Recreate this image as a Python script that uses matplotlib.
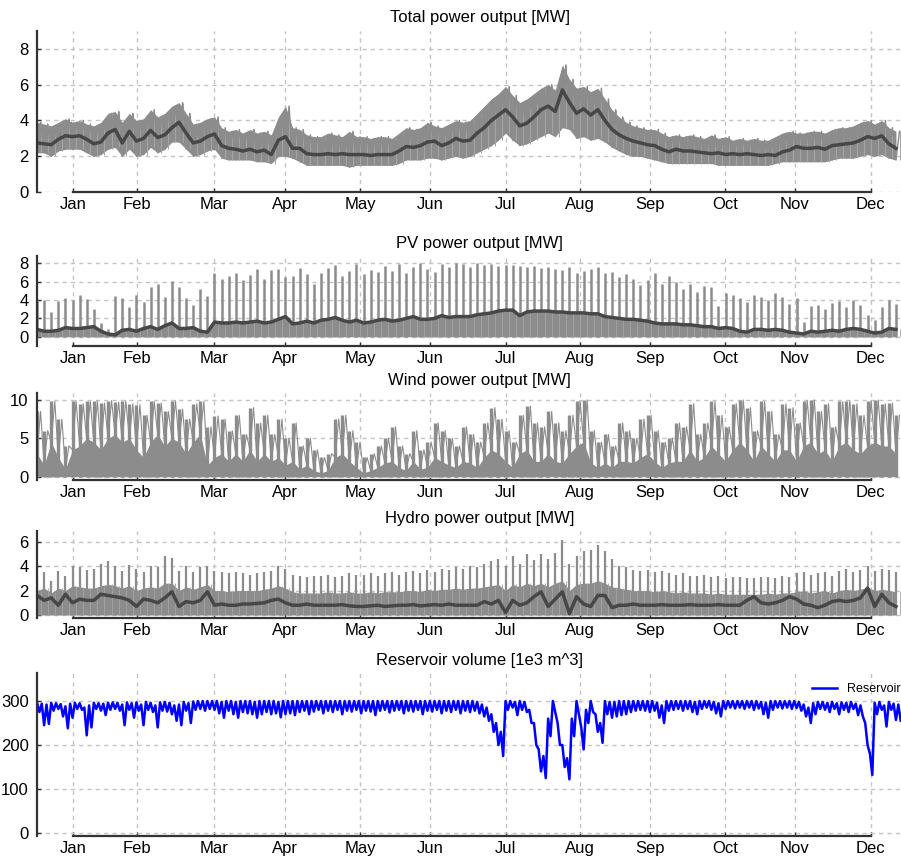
import numpy as np
import matplotlib
matplotlib.use("Agg")
import matplotlib.pyplot as plt

plt.rcParams['font.family'] = ['Liberation Sans', 'DejaVu Sans']

# month label positions along the day axis
months = ["Jan", "Feb", "Mar", "Apr", "May", "Jun", "Jul", "Aug", "Sep", "Oct", "Nov", "Dec"]
month_pos = [15.4, 42.1, 74.9, 104.8, 136.5, 166.1, 198.1, 229.4, 258.9, 290.7, 320.3, 352.3]

# power series sampled every 3 days (day 0 ... 363)
days3 = list(range(0, 364, 3))

total_mean = [2.75, 2.7, 2.65, 2.95, 3.15, 3.1, 3.15, 2.95, 2.7, 2.8,
              3.3, 3.5, 2.75, 3.4, 2.85, 3.0, 3.45, 3.05, 3.2, 3.6,
              3.9, 3.3, 2.75, 2.85, 3.1, 3.25, 2.6, 2.45, 2.4, 2.3,
              2.4, 2.25, 2.35, 2.1, 2.9, 3.1, 2.45, 2.45, 2.15, 2.1,
              2.1, 2.15, 2.1, 2.15, 2.1, 2.1, 2.1, 2.05, 2.1, 2.1,
              2.1, 2.3, 2.55, 2.5, 2.6, 2.8, 2.85, 2.6, 2.75, 3.0,
              2.85, 2.9, 3.3, 3.6, 4.0, 4.3, 4.6, 4.2, 3.7, 3.85,
              4.2, 4.6, 4.8, 4.5, 5.7, 5.0, 4.4, 4.65, 4.3, 4.6,
              4.0, 3.5, 3.2, 3.0, 2.85, 2.75, 2.65, 2.6, 2.4, 2.25,
              2.4, 2.3, 2.3, 2.25, 2.2, 2.15, 2.2, 2.1, 2.15, 2.1,
              2.15, 2.1, 2.05, 2.1, 2.05, 2.25, 2.35, 2.55, 2.45, 2.45,
              2.5, 2.4, 2.6, 2.65, 2.7, 2.75, 2.9, 3.1, 3.0, 3.15,
              2.7, 2.45]
total_hi = [3.9, 3.8, 3.7, 3.9, 4.1, 3.9, 4.0, 3.8, 3.7, 3.9,
            4.4, 4.5, 3.9, 4.4, 4.0, 4.1, 4.6, 4.2, 4.4, 4.8,
            5.0, 4.4, 3.8, 3.9, 4.1, 4.2, 3.6, 3.4, 3.5, 3.3,
            3.5, 3.3, 3.4, 3.2, 4.2, 4.8, 3.6, 3.5, 3.2, 3.1,
            3.1, 3.3, 3.2, 3.1, 3.4, 3.1, 3.1, 3.0, 3.1, 3.1,
            3.0, 3.3, 3.6, 3.5, 3.6, 3.9, 3.7, 3.6, 3.8, 4.0,
            3.9, 4.0, 4.4, 4.8, 5.2, 5.5, 5.9, 5.4, 5.0, 5.2,
            5.5, 5.8, 6.0, 5.7, 7.1, 6.3, 5.8, 5.9, 5.6, 5.8,
            5.2, 4.6, 4.2, 3.9, 3.7, 3.6, 3.5, 3.5, 3.3, 3.1,
            3.2, 3.1, 3.2, 3.1, 3.0, 3.2, 3.0, 3.1, 2.9, 3.0,
            2.9, 3.0, 2.9, 2.9, 3.1, 3.3, 3.4, 3.3, 3.3, 3.4,
            3.4, 3.3, 3.5, 3.6, 3.6, 3.7, 3.9, 4.0, 3.8, 4.0,
            3.6, 3.4]
total_lo = [2.2, 2.2, 2.0, 2.3, 2.4, 2.4, 2.4, 2.2, 2.0, 2.1,
            2.4, 2.5, 2.0, 2.4, 2.0, 2.1, 2.5, 2.2, 2.4, 2.8,
            2.8, 2.4, 2.0, 2.1, 2.3, 2.4, 1.9, 1.8, 1.8, 1.8,
            1.8, 1.7, 1.7, 1.6, 2.0, 2.0, 1.9, 1.7, 1.5, 1.5,
            1.5, 1.5, 1.5, 1.5, 1.4, 1.5, 1.5, 1.5, 1.5, 1.5,
            1.5, 1.6, 1.8, 1.8, 1.8, 1.9, 1.9, 1.8, 1.9, 2.0,
            1.9, 2.0, 2.2, 2.4, 2.6, 2.9, 3.3, 2.9, 2.6, 2.7,
            2.9, 3.1, 3.3, 3.1, 3.6, 3.5, 3.0, 3.1, 2.9, 3.0,
            2.8, 2.5, 2.3, 2.1, 2.0, 2.0, 1.9, 1.8, 1.7, 1.6,
            1.6, 1.6, 1.6, 1.6, 1.6, 1.6, 1.5, 1.5, 1.5, 1.5,
            1.5, 1.5, 1.5, 1.5, 1.6, 1.7, 1.7, 1.7, 1.7, 1.7,
            1.7, 1.7, 1.8, 1.9, 1.9, 1.9, 2.0, 2.1, 2.0, 2.1,
            1.9, 1.8]

pv_mean = [0.8, 0.6, 0.6, 0.7, 1.0, 0.9, 0.9, 1.0, 1.1, 0.6,
           0.3, 0.2, 0.7, 0.8, 0.6, 0.9, 1.1, 0.8, 1.2, 1.5,
           0.9, 0.9, 1.0, 0.6, 0.5, 1.6, 1.5, 1.5, 1.6, 1.5,
           1.6, 1.7, 1.5, 1.6, 1.9, 2.2, 1.4, 1.5, 1.7, 1.5,
           1.8, 1.9, 2.1, 1.8, 1.6, 1.8, 1.5, 1.6, 1.8, 1.9,
           1.7, 1.8, 2.0, 2.2, 1.9, 1.9, 2.0, 2.3, 2.1, 2.2,
           2.2, 2.2, 2.4, 2.5, 2.6, 2.8, 2.9, 2.9, 2.3, 2.7,
           2.8, 2.8, 2.8, 2.7, 2.7, 2.6, 2.6, 2.6, 2.5, 2.5,
           2.2, 2.1, 2.0, 1.9, 1.9, 1.8, 1.7, 1.5, 1.4, 1.4,
           1.4, 1.3, 1.3, 1.2, 1.1, 1.1, 0.9, 1.0, 0.9, 0.6,
           0.5, 0.8, 0.8, 0.7, 0.8, 0.7, 0.5, 0.4, 0.3, 0.6,
           0.5, 0.6, 0.7, 0.6, 0.8, 0.9, 0.8, 0.6, 0.4, 0.5,
           0.9, 0.8]
pv_hi = [4.1, 4.0, 2.7, 3.9, 4.2, 4.0, 4.5, 4.1, 3.0, 1.5,
         0.8, 4.4, 4.2, 3.2, 4.5, 3.8, 5.4, 5.8, 4.3, 6.1,
         5.4, 4.2, 3.5, 5.2, 4.4, 7.0, 6.3, 6.6, 7.0, 6.2,
         6.7, 7.4, 6.3, 7.3, 7.4, 6.5, 6.6, 7.5, 6.8, 5.8,
         6.9, 7.5, 7.8, 6.6, 7.2, 7.9, 6.8, 7.3, 7.1, 7.7,
         7.2, 7.9, 6.9, 7.6, 8.0, 7.4, 7.1, 7.9, 7.6, 8.0,
         7.9, 7.6, 8.0, 7.8, 7.9, 7.7, 7.8, 7.8, 7.7, 7.6,
         7.7, 7.5, 7.6, 7.4, 7.3, 7.6, 7.0, 7.2, 7.4, 7.6,
         6.9, 7.1, 6.5, 6.8, 6.3, 5.6, 6.2, 7.0, 5.8, 6.6,
         6.0, 5.2, 5.8, 4.9, 5.5, 5.4, 3.4, 4.8, 4.5, 4.2,
         3.8, 4.6, 4.3, 4.0, 4.8, 4.3, 3.6, 4.2, 1.6, 3.4,
         3.5, 3.0, 3.7, 3.9, 3.2, 4.0, 3.5, 2.4, 1.8, 3.2,
         4.0, 3.6]

wind_hi = [8.5, 6.0, 9.8, 7.5, 4.0, 9.9, 9.5, 9.8, 9.9, 9.6,
           9.9, 9.7, 9.9, 9.5, 9.4, 8.0, 9.8, 9.6, 8.5, 9.9,
           8.8, 7.5, 9.5, 9.8, 6.5, 7.9, 7.5, 6.0, 8.0, 5.5,
           9.0, 7.0, 8.0, 5.5, 7.5, 5.0, 7.0, 4.0, 5.0, 3.5,
           2.5, 3.0, 7.5, 8.0, 6.0, 4.5, 2.5, 3.0, 4.0, 5.0,
           6.5, 4.0, 3.0, 6.0, 3.5, 4.5, 7.0, 6.0, 5.0, 4.0,
           6.5, 5.5, 4.5, 7.0, 9.0, 7.5, 6.0, 4.5, 8.0, 9.2,
           7.0, 6.5, 8.5, 7.0, 6.0, 8.0, 9.8, 10.0, 6.0, 4.5,
           5.5, 4.0, 7.0, 6.0, 5.0, 7.5, 8.0, 6.0, 4.5, 5.0,
           7.0, 6.5, 9.5, 5.5, 7.0, 9.8, 8.0, 6.5, 9.5, 10.0,
           9.0, 6.0, 9.8, 8.5, 5.5, 9.5, 9.0, 7.0, 9.9, 10.0,
           8.5, 9.5, 6.5, 9.8, 9.9, 9.5, 8.0, 9.9, 10.0, 9.5,
           9.6, 8.0]
wind_lo = [3.0, 1.5, 4.5, 2.5, 1.0, 3.5, 4.0, 5.0, 4.5, 3.5,
           5.0, 5.5, 4.5, 5.0, 3.5, 2.5, 4.5, 5.5, 4.0, 5.0,
           4.5, 3.0, 4.5, 5.5, 1.5, 2.5, 3.0, 2.0, 3.0, 2.0,
           3.5, 2.0, 3.0, 2.0, 2.5, 1.5, 2.0, 1.0, 1.5, 0.8,
           0.5, 0.8, 2.5, 3.0, 2.0, 1.2, 0.5, 0.8, 1.2, 1.8,
           2.0, 1.2, 0.8, 2.0, 1.0, 1.2, 2.5, 2.0, 1.5, 1.2,
           2.0, 1.8, 1.2, 2.5, 3.5, 3.0, 2.0, 1.2, 3.0, 3.5,
           2.0, 2.0, 3.0, 2.0, 1.8, 3.0, 4.0, 4.5, 1.8, 1.2,
           1.8, 1.2, 2.0, 2.0, 1.8, 2.5, 3.0, 2.0, 1.2, 1.8,
           2.0, 2.0, 3.5, 2.0, 2.5, 4.0, 3.0, 2.0, 3.5, 4.5,
           3.5, 2.0, 4.0, 3.0, 2.0, 3.5, 3.5, 2.0, 4.0, 4.5,
           3.0, 3.5, 2.0, 4.0, 4.5, 3.5, 3.0, 4.0, 4.5, 4.0,
           4.0, 3.0]

hydro_mean = [1.6, 1.2, 1.4, 0.8, 1.7, 1.0, 1.3, 1.2, 1.2, 1.7,
              1.6, 1.5, 1.4, 1.2, 0.7, 1.3, 1.2, 1.0, 1.4, 1.9,
              0.7, 1.1, 1.0, 1.2, 1.9, 0.8, 0.9, 0.8, 0.8, 0.9,
              0.9, 0.95, 1.0, 1.2, 1.3, 1.0, 0.8, 0.8, 0.9, 0.8,
              0.8, 0.8, 0.8, 0.85, 0.75, 0.7, 0.7, 0.75, 0.8, 0.7,
              0.75, 0.8, 0.8, 0.85, 0.75, 0.8, 0.85, 0.8, 0.9, 0.8,
              0.8, 0.8, 0.8, 1.1, 0.9, 1.2, 0.2, 1.2, 0.8, 1.0,
              1.5, 1.9, 0.7, 1.3, 1.9, 0.1, 1.5, 0.9, 0.7, 1.6,
              1.6, 0.6, 0.8, 0.8, 0.9, 0.8, 0.8, 0.8, 0.85, 0.8,
              0.8, 0.8, 0.85, 0.8, 0.8, 0.8, 0.85, 0.8, 0.8, 0.8,
              1.2, 1.5, 1.0, 0.9, 1.0, 1.2, 1.5, 1.3, 0.9, 0.8,
              0.6, 0.8, 1.1, 1.2, 1.1, 1.2, 1.4, 2.2, 0.7, 1.7,
              1.0, 0.7]
hydro_hi = [3.3, 3.5, 2.8, 3.6, 3.2, 4.0, 3.9, 3.7, 3.8, 4.2,
            4.4, 4.0, 3.6, 4.1, 3.8, 3.5, 4.0, 3.9, 4.8, 4.7,
            3.6, 4.0, 3.5, 3.9, 4.0, 3.6, 3.5, 3.4, 3.5, 3.4,
            3.3, 3.4, 3.5, 3.6, 4.0, 3.8, 3.3, 3.2, 3.1, 3.2,
            3.2, 3.3, 3.1, 3.2, 3.4, 3.3, 3.3, 3.4, 3.2, 3.4,
            3.5, 3.3, 3.5, 3.6, 3.4, 3.7, 3.5, 3.8, 3.7, 3.9,
            3.8, 4.0, 3.9, 4.2, 4.4, 4.6, 4.0, 4.8, 4.2, 5.0,
            4.5, 5.0, 4.6, 5.1, 6.1, 4.2, 4.8, 5.2, 5.3, 5.7,
            5.2, 4.6, 4.0, 3.9, 3.7, 3.6, 3.7, 3.5, 3.6, 3.4,
            3.3, 3.4, 3.2, 3.2, 3.3, 3.1, 3.2, 3.0, 3.1, 3.1,
            3.0, 3.0, 3.1, 3.1, 3.0, 3.2, 3.1, 3.4, 3.5, 3.3,
            3.4, 3.5, 3.2, 3.6, 3.8, 3.5, 3.7, 4.0, 3.6, 3.8,
            3.7, 3.5]
hydro_lo = [2.0, 2.2, 1.8, 2.2, 2.0, 2.4, 2.3, 2.2, 2.2, 2.4,
            2.5, 2.4, 2.2, 2.4, 2.0, 2.2, 2.3, 2.2, 2.6, 2.6,
            2.0, 2.3, 2.1, 2.3, 2.5, 2.0, 2.0, 1.9, 2.0, 2.0,
            2.0, 2.0, 2.1, 2.2, 2.4, 2.2, 1.9, 1.8, 1.8, 1.8,
            1.8, 1.9, 1.8, 1.8, 1.9, 1.8, 1.8, 1.9, 1.8, 1.9,
            1.9, 1.9, 2.0, 2.0, 1.9, 2.1, 2.0, 2.1, 2.1, 2.2,
            2.1, 2.2, 2.2, 2.3, 2.4, 2.5, 2.0, 2.5, 2.3, 2.6,
            2.4, 2.6, 2.3, 2.6, 2.8, 2.0, 2.5, 2.6, 2.6, 2.8,
            2.6, 2.3, 2.2, 2.1, 2.0, 2.0, 2.0, 1.9, 2.0, 1.9,
            1.8, 1.9, 1.8, 1.8, 1.8, 1.7, 1.8, 1.7, 1.7, 1.7,
            1.7, 1.7, 1.7, 1.8, 1.7, 1.8, 1.8, 1.9, 2.0, 1.8,
            1.9, 2.0, 1.8, 2.0, 2.1, 2.0, 2.1, 2.3, 2.0, 2.1,
            2.0, 1.9]

# reservoir volume sampled every 2 days (day 0 ... 364)
days2 = list(range(0, 365, 2))
res_lo = [275, 245, 248, 278, 282, 265, 238, 262, 282, 280,
          222, 240, 282, 278, 268, 280, 282, 278, 245, 280,
          262, 278, 245, 280, 275, 240, 278, 276, 270, 255,
          245, 278, 250, 280, 282, 278, 282, 280, 272, 262,
          278, 270, 262, 275, 272, 270, 262, 270, 275, 270,
          272, 263, 270, 272, 268, 275, 278, 270, 276, 280,
          272, 278, 275, 280, 270, 278, 276, 280, 272, 278,
          276, 268, 278, 280, 274, 278, 280, 272, 278, 276,
          280, 270, 278, 276, 280, 272, 278, 275, 280, 272,
          278, 275, 278, 272, 265, 255, 230, 200, 175, 280,
          285, 268, 280, 275, 250, 200, 140, 125, 220, 275,
          200, 150, 122, 220, 270, 190, 250, 275, 230, 205,
          270, 262, 265, 268, 270, 275, 278, 280, 278, 275,
          278, 262, 250, 278, 280, 282, 278, 282, 275, 270,
          282, 285, 280, 272, 265, 282, 285, 283, 285, 282,
          285, 280, 283, 270, 262, 280, 285, 283, 285, 282,
          284, 278, 265, 250, 270, 282, 280, 275, 282, 270,
          280, 275, 282, 268, 265, 200, 132, 270, 280, 242,
          280, 257, 255]
res_hi = [296, 294, 292, 296, 295, 293, 288, 294, 296, 295,
          285, 290, 296, 295, 294, 296, 297, 296, 292, 297,
          295, 297, 292, 298, 296, 290, 297, 298, 296, 290,
          292, 298, 295, 299, 300, 300, 300, 300, 300, 298,
          300, 300, 298, 300, 300, 300, 298, 300, 300, 300,
          300, 298, 300, 300, 300, 300, 300, 300, 300, 300,
          300, 300, 300, 300, 300, 300, 300, 300, 300, 300,
          300, 300, 300, 300, 300, 300, 300, 300, 300, 300,
          300, 300, 300, 300, 300, 300, 300, 300, 300, 300,
          300, 300, 300, 298, 292, 285, 270, 250, 230, 300,
          300, 298, 300, 298, 280, 250, 190, 175, 260, 300,
          250, 200, 170, 260, 300, 240, 280, 300, 270, 250,
          300, 298, 298, 300, 300, 300, 300, 300, 300, 300,
          300, 296, 290, 300, 300, 300, 300, 300, 300, 298,
          300, 300, 300, 298, 295, 300, 300, 300, 300, 300,
          300, 300, 300, 298, 296, 300, 300, 300, 300, 300,
          300, 298, 292, 285, 295, 298, 298, 296, 298, 295,
          297, 296, 298, 294, 290, 250, 180, 296, 298, 290,
          298, 294, 292]

GREY = '#8c8c8c'
LIGHT = '#a4a4a4'
DARK = '#474747'


def zigzag(x, lo, hi, half):
    # alternate low and high values to mimic the hourly swing
    xs = np.empty(2 * len(x))
    ys = np.empty(2 * len(x))
    xs[0::2] = x
    xs[1::2] = np.asarray(x) + half
    ys[0::2] = lo
    ys[1::2] = hi
    return xs, ys


def style_axis(ax, title, ylim, yticks):
    ax.set_xlim(0, 374)
    ax.set_ylim(*ylim)
    ax.set_yticks(yticks)
    ax.set_xticks(month_pos)
    ax.set_xticklabels(months)
    ax.grid(True, linestyle=(0, (3, 3)), color='#c4c4c4', linewidth=1.0)
    ax.set_axisbelow(True)
    for s in ['top', 'right']:
        ax.spines[s].set_visible(False)
    for s in ['left', 'bottom']:
        ax.spines[s].set_color('#333333')
        ax.spines[s].set_linewidth(1.6)
    ax.spines['bottom'].set_bounds(month_pos[0], month_pos[-1])
    ax.tick_params(direction='in', length=3, width=1, colors='#333333',
                   labelcolor='black', labelsize=12)
    ax.tick_params(axis='y', pad=6)
    ax.set_title(title, fontsize=12, pad=6)


fig = plt.figure(figsize=(9.01, 8.6), dpi=100)
left, width = 0.0411, 0.9822
ax1 = fig.add_axes([left, 0.7764, width, 0.1879])
ax2 = fig.add_axes([left, 0.5980, width, 0.1043])
ax3 = fig.add_axes([left, 0.4419, width, 0.1008])
ax4 = fig.add_axes([left, 0.2810, width, 0.1016])
ax5 = fig.add_axes([left, 0.0279, width, 0.1895])

x3 = np.array(days3)

# total power
ax1.fill_between(x3, total_lo, total_hi, color=GREY, lw=0)
ax1.vlines(x3 + 1.5, total_lo, total_hi, color=LIGHT, lw=0.8)
xs, ys = zigzag(x3, total_lo, total_hi, 1.5)
ax1.plot(xs, ys, color=GREY, lw=1.0)
ax1.plot(x3, total_mean, color=DARK, lw=2.5)
style_axis(ax1, "Total power output [MW]", (0, 9), [0, 2, 4, 6, 8])

# pv power
ax2.fill_between(x3, 0, pv_mean, color=GREY, lw=0)
ax2.vlines(x3, 0, pv_hi, color=GREY, lw=1.8)
ax2.vlines(x3 + 1.5, 0, pv_mean, color=LIGHT, lw=0.6)
ax2.plot(x3, pv_mean, color=DARK, lw=2.5)
style_axis(ax2, "PV power output [MW]", (-0.98, 8.8), [0, 2, 4, 6, 8])

# wind power
ax3.fill_between(x3, 0, wind_lo, color=GREY, lw=0)
ax3.vlines(x3, 0, wind_hi, color=GREY, lw=2.4)
xs, ys = zigzag(x3, wind_lo, wind_hi, 1.5)
ax3.plot(xs, ys, color=GREY, lw=0.8)
style_axis(ax3, "Wind power output [MW]", (-0.43, 10.87), [0, 5, 10])

# hydro power
ax4.fill_between(x3, 0, hydro_lo, color=GREY, lw=0)
ax4.vlines(x3, 0, hydro_hi, color=GREY, lw=1.6)
ax4.vlines(x3 + 1.5, 0, hydro_lo, color=LIGHT, lw=0.6)
ax4.plot(x3, hydro_mean, color=DARK, lw=2.5)
style_axis(ax4, "Hydro power output [MW]", (-0.27, 6.87), [0, 2, 4, 6])

# reservoir
xs, ys = zigzag(days2, res_hi, res_lo, 1.0)
ax5.plot(xs, ys, color='blue', lw=1.8, label='Reservoir')
style_axis(ax5, "Reservoir volume [1e3 m^3]", (-6.8, 363.6), [0, 100, 200, 300])
ax5.legend(loc='upper left', bbox_to_anchor=(0.870, 0.97), borderaxespad=0,
           frameon=False, fontsize=9, handlelength=2.0)

fig.savefig("out.png", dpi=100)
